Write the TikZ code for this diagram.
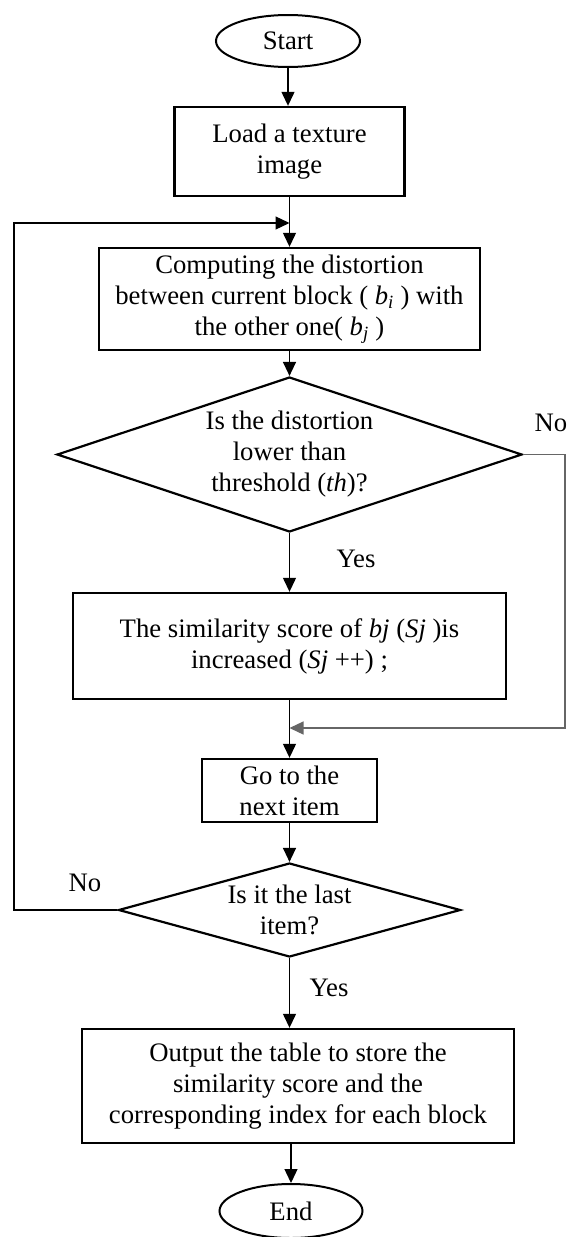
\documentclass[tikz,border=0pt]{standalone}
\usepackage{fontspec}
\setmainfont{Liberation Serif}
\usetikzlibrary{shapes.geometric,arrows.meta}
\begin{document}
\begin{tikzpicture}[x=1pt,y=-1pt,
 every node/.style={font=\fontsize{26.7}{31}\selectfont, text=black},
 box/.style={draw, line width=2.4pt, inner sep=0pt, align=center},
 term/.style={draw, ellipse, line width=2pt, inner sep=0pt},
 dia/.style={draw, diamond, line width=2.2pt, inner sep=0pt},
 txt/.style={inner sep=0pt, align=center},
 arr/.style={line width=1.3pt, -{Triangle[length=14pt,width=13pt]}},
 lbl/.style={inner sep=0pt}]
\useasboundingbox (0,0) rectangle (567,1237);
\fill[white] (0,0) rectangle (567,1237);

\node[term, minimum width=144pt, minimum height=52pt] (start) at (288,41) {Start};
\node[box, minimum width=230pt, minimum height=89pt] (load) at (289.5,151.5) {Load a texture\\image};
\node[box, minimum width=381pt, minimum height=102pt] (comp) at (289.5,299) {Computing the distortion\\between current block ( \textit{b}\textsubscript{\textit{i}} ) with\\the other one( \textit{b}\textsubscript{\textit{j}} )};
\node[dia, minimum width=465pt, minimum height=155pt] (d1) at (289.5,454.5) {};
\node[txt] (d1t) at (d1.center) {Is the distortion\\lower than\\threshold (\textit{th})?};
\node[box, minimum width=433pt, minimum height=106pt] (sim) at (289.5,646) {The similarity score of \textit{bj} (\textit{Sj} )is\\increased (\textit{Sj} ++) ;};
\node[box, minimum width=175pt, minimum height=63pt] (go) at (289.5,790.5) {Go to the\\next item};
\node[dia, minimum width=342pt, minimum height=94pt] (d2) at (289.5,910) {};
\node[txt] (d2t) at (d2.center) {Is it the last\\item?};
\node[box, minimum width=432pt, minimum height=114pt] (out) at (298,1086) {Output the table to store the\\similarity score and the\\corresponding index for each block};
\node[term, minimum width=143pt, minimum height=54pt] (end) at (291,1211) {End};

\node[lbl] (no1) at (551,423) {No};
\node[lbl] (yes1) at (356,559) {Yes};
\node[lbl] (no2) at (85,883) {No};
\node[lbl] (yes2) at (329,988) {Yes};

\coordinate (j1) at (289.5,223);
\coordinate (lt) at (14,223);
\coordinate (lb) at (14,910);
\coordinate (rt) at (565,454.5);
\coordinate (rb) at (565,728);
\coordinate (j2) at (289.5,728);

\draw[arr] (start.south) -- (start.south |- load.north);
\draw[arr] (load.south) -- (comp.north);
\draw[arr] (comp.south) -- (d1.north);
\draw[arr] (d1.south) -- (sim.north);
\draw[arr] (sim.south) -- (go.north);
\draw[arr] (go.south) -- (d2.north);
\draw[arr] (d2.south) -- (d2.south |- out.north);
\draw[arr] (out.south -| end.north) -- (end.north);
\draw[arr] (d2.west) -- (lb) -- (lt) -- (j1);
\draw[arr, draw=black!60] (d1.east) -- (rt) -- (rb) -- (j2);
\end{tikzpicture}
\end{document}
